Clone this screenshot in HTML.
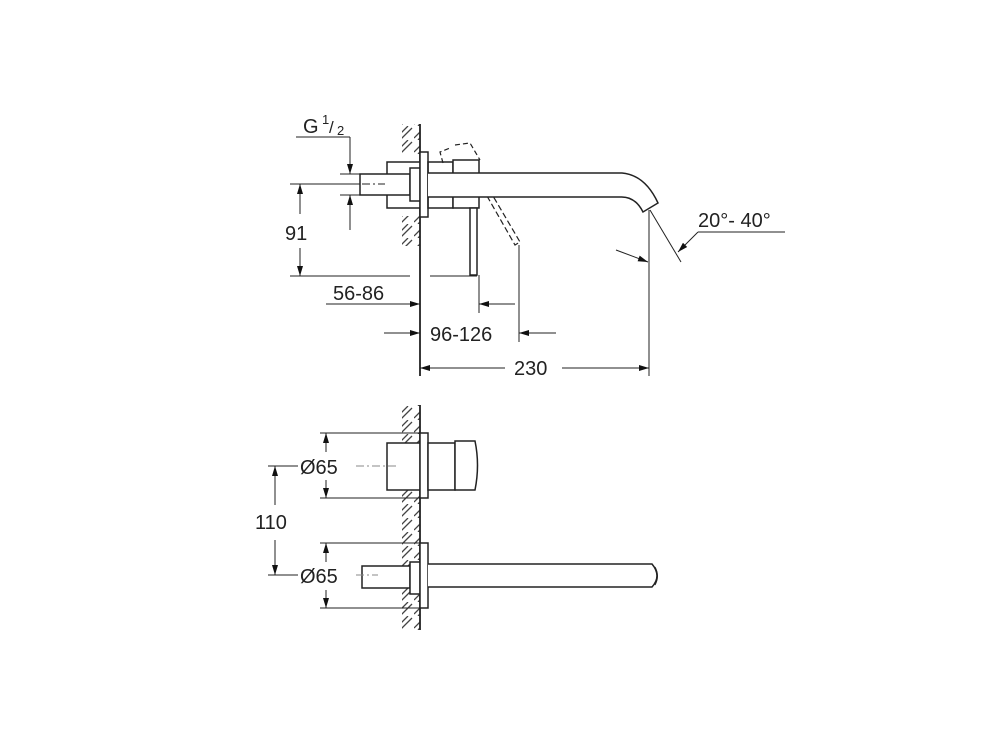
<!DOCTYPE html>
<html><head><meta charset="utf-8"><style>
html,body{margin:0;padding:0;background:#fff;width:1008px;height:749px;overflow:hidden}
svg{display:block}
text{font-family:"Liberation Sans",sans-serif;fill:#222}
</style></head><body>
<svg width="1008" height="749" viewBox="0 0 1008 749" xmlns="http://www.w3.org/2000/svg">
<defs>
<marker id="a" viewBox="0 0 10 6" refX="10" refY="3" markerWidth="12" markerHeight="6" orient="auto-start-reverse" markerUnits="userSpaceOnUse"><path d="M0,0 L10,3 L0,6z" fill="#111"/></marker>
<pattern id="h" width="18" height="14" patternUnits="userSpaceOnUse"><path d="M4,14 L16,2 M0,12 L12,0" stroke="#444" stroke-width="1.3" fill="none"/></pattern>
</defs>
<g stroke="#222" stroke-width="1.5" fill="none">
<rect x="402" y="124" width="18" height="30" fill="url(#h)" stroke="none"/>
<rect x="402" y="216" width="18" height="30" fill="url(#h)" stroke="none"/>
<line x1="420" y1="124" x2="420" y2="376" stroke-width="1.8"/>
<rect x="387" y="162" width="33" height="46" fill="#fff"/>
<rect x="360" y="174" width="50" height="21" fill="#fff"/>
<line x1="362" y1="184" x2="385" y2="184" stroke-dasharray="8 3 2 3" stroke-width="1"/>
<rect x="410" y="168" width="10" height="33" fill="#fff"/>
<rect x="420" y="152" width="8" height="65" fill="#fff"/>
<rect x="428" y="162" width="25" height="46"/>
<path d="M443,163 L440,152 L450,148 M455,145 L470,143 L480,160" stroke-dasharray="5 3" stroke-width="1.2"/>
<path d="M487,196 L515,245 L520,242 L493,196" stroke-dasharray="6 3" stroke-width="1.2"/>
<rect x="453" y="160" width="26" height="48" fill="#fff"/>
<path d="M428,173 L622,173 Q645,175 658,203 L643,212 Q635,196 620,197 L428,197" fill="#fff"/>
<rect x="470" y="208" width="7" height="67" fill="#fff"/>
<line x1="296" y1="137" x2="350" y2="137" stroke-width="1"/>
<line x1="350" y1="137" x2="350" y2="174" stroke-width="1" marker-end="url(#a)"/>
<line x1="350" y1="230" x2="350" y2="195" stroke-width="1" marker-end="url(#a)"/>
<line x1="340" y1="174" x2="360" y2="174" stroke-width="1"/>
<line x1="340" y1="195" x2="360" y2="195" stroke-width="1"/>
<line x1="290" y1="184" x2="360" y2="184" stroke-width="1"/>
<line x1="290" y1="276" x2="410" y2="276" stroke-width="1"/>
<line x1="430" y1="276" x2="477" y2="276" stroke-width="1"/>
<line x1="300" y1="214" x2="300" y2="184" stroke-width="1" marker-end="url(#a)"/>
<line x1="300" y1="248" x2="300" y2="276" stroke-width="1" marker-end="url(#a)"/>
<line x1="479" y1="275" x2="479" y2="313" stroke-width="1"/>
<line x1="519" y1="245" x2="519" y2="342" stroke-width="1"/>
<line x1="649" y1="210" x2="649" y2="376" stroke-width="1"/>
<line x1="326" y1="304" x2="420" y2="304" stroke-width="1" marker-end="url(#a)"/>
<line x1="515" y1="304" x2="479" y2="304" stroke-width="1" marker-end="url(#a)"/>
<line x1="384" y1="333" x2="420" y2="333" stroke-width="1" marker-end="url(#a)"/>
<line x1="556" y1="333" x2="519" y2="333" stroke-width="1" marker-end="url(#a)"/>
<line x1="505" y1="368" x2="420" y2="368" stroke-width="1" marker-end="url(#a)"/>
<line x1="562" y1="368" x2="649" y2="368" stroke-width="1" marker-end="url(#a)"/>
<line x1="650" y1="210" x2="681" y2="262" stroke-width="1"/>
<line x1="698" y1="232" x2="785" y2="232" stroke-width="1"/>
<line x1="698" y1="232" x2="678" y2="252" stroke-width="1" marker-end="url(#a)"/>
<line x1="616" y1="250" x2="648" y2="262" stroke-width="1" marker-end="url(#a)"/>
<rect x="402" y="405" width="18" height="225" fill="url(#h)" stroke="none"/>
<line x1="420" y1="405" x2="420" y2="630" stroke-width="1.8"/>
<rect x="387" y="443" width="33" height="47" fill="#fff"/>
<rect x="420" y="433" width="8" height="65" fill="#fff"/>
<rect x="428" y="443" width="27" height="47" fill="#fff"/>
<path d="M455,441 L475,441 Q480,465 475,490 L455,490 Z" fill="#fff"/>
<rect x="362" y="566" width="48" height="22" fill="#fff"/>
<rect x="410" y="562" width="10" height="32" fill="#fff"/>
<rect x="420" y="543" width="8" height="65" fill="#fff"/>
<path d="M428,564 L652,564 Q662,576 652,587 L428,587" fill="#fff"/>
<path d="M655,567 Q660,576 655,585" stroke-width="1"/>
<line x1="320" y1="433" x2="420" y2="433" stroke-width="1"/>
<line x1="320" y1="498" x2="420" y2="498" stroke-width="1"/>
<line x1="320" y1="543" x2="420" y2="543" stroke-width="1"/>
<line x1="320" y1="608" x2="420" y2="608" stroke-width="1"/>
<line x1="326" y1="452" x2="326" y2="433" stroke-width="1" marker-end="url(#a)"/>
<line x1="326" y1="480" x2="326" y2="498" stroke-width="1" marker-end="url(#a)"/>
<line x1="326" y1="562" x2="326" y2="543" stroke-width="1" marker-end="url(#a)"/>
<line x1="326" y1="590" x2="326" y2="608" stroke-width="1" marker-end="url(#a)"/>
<line x1="268" y1="466" x2="298" y2="466" stroke-width="1"/>
<line x1="268" y1="575" x2="298" y2="575" stroke-width="1"/>
<line x1="356" y1="466" x2="398" y2="466" stroke-width="1" stroke-dasharray="8 3 2 3" stroke="#888"/>
<line x1="356" y1="575" x2="378" y2="575" stroke-width="1" stroke-dasharray="8 3 2 3" stroke="#888"/>
<line x1="275" y1="505" x2="275" y2="466" stroke-width="1" marker-end="url(#a)"/>
<line x1="275" y1="540" x2="275" y2="575" stroke-width="1" marker-end="url(#a)"/>
</g>
<g font-size="20">
<text x="303" y="133">G</text>
<text x="322" y="124" font-size="13">1</text>
<text x="329" y="133" font-size="17">/</text>
<text x="337" y="135" font-size="13">2</text>
<text x="285" y="240">91</text>
<text x="333" y="300">56-86</text>
<text x="430" y="341">96-126</text>
<text x="514" y="375">230</text>
<text x="698" y="227">20°- 40°</text>
<text x="300" y="474">Ø65</text>
<text x="255" y="529">110</text>
<text x="300" y="583">Ø65</text>
</g>
</svg>
</body></html>
